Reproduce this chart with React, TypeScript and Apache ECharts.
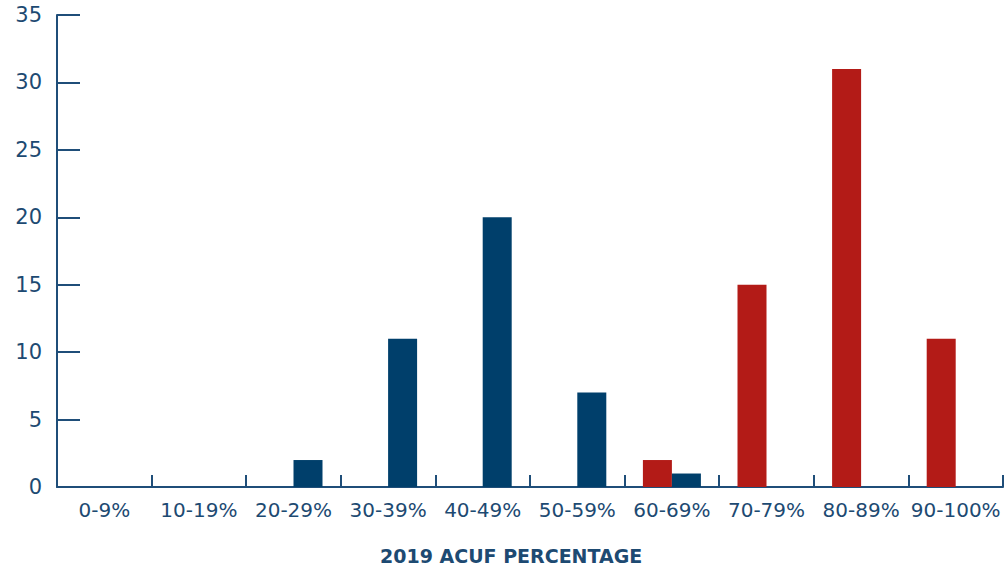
import React, { useEffect, useRef } from "react";
import * as echarts from "echarts";

const categories = ["0-9%", "10-19%", "20-29%", "30-39%", "40-49%", "50-59%", "60-69%", "70-79%", "80-89%", "90-100%"];
const redValues = [0, 0, 0, 0, 0, 0, 2, 15, 31, 11];
const blueValues = [0, 0, 2, 11, 20, 7, 1, 0, 0, 0];
const yTicks = { min: 0, max: 35, interval: 5 };
const axisTitle = "2019 ACUF PERCENTAGE";

const TEXT = "#1d4a72";
const LINE = "#1f4e79";

export default function App() {
  const ref = useRef<HTMLDivElement>(null);
  useEffect(() => {
    const chart = echarts.init(ref.current!, null, { renderer: "svg" });
    chart.setOption({
      animation: false,
      grid: { left: 57, right: 5, top: 15, bottom: 84 },
      xAxis: {
        type: "category",
        data: categories,
        axisLine: { lineStyle: { color: LINE, width: 2 } },
        axisTick: { show: true, inside: true, length: 12, interval: 0, lineStyle: { color: LINE, width: 2 } },
        axisLabel: { color: TEXT, fontSize: 20, margin: 13, interval: 0, fontFamily: "DejaVu Sans" },
      },
      yAxis: {
        type: "value",
        min: yTicks.min,
        max: yTicks.max,
        interval: yTicks.interval,
        splitLine: { show: false },
        axisLine: { show: true, lineStyle: { color: LINE, width: 2 } },
        axisTick: { show: true, inside: true, length: 23, lineStyle: { color: LINE, width: 2 } },
        axisLabel: { color: TEXT, fontSize: 21, margin: 15, fontFamily: "DejaVu Sans" },
      },
      series: [
        {
          type: "bar",
          data: redValues,
          barWidth: 29,
          barGap: "0%",
          itemStyle: { color: "#b31b17" },
        },
        {
          type: "bar",
          data: blueValues,
          barWidth: 29,
          barGap: "0%",
          itemStyle: { color: "#003f6b" },
        },
      ],
      graphic: [
        {
          type: "text",
          left: 380,
          top: 546,
          style: {
            text: axisTitle,
            fill: TEXT,
            font: "bold 19px 'DejaVu Sans'",
          },
        },
      ],
    });
    return () => chart.dispose();
  }, []);
  return <div ref={ref} style={{ position: "absolute", left: 0, top: 0, width: 1008, height: 571 }} />;
}
